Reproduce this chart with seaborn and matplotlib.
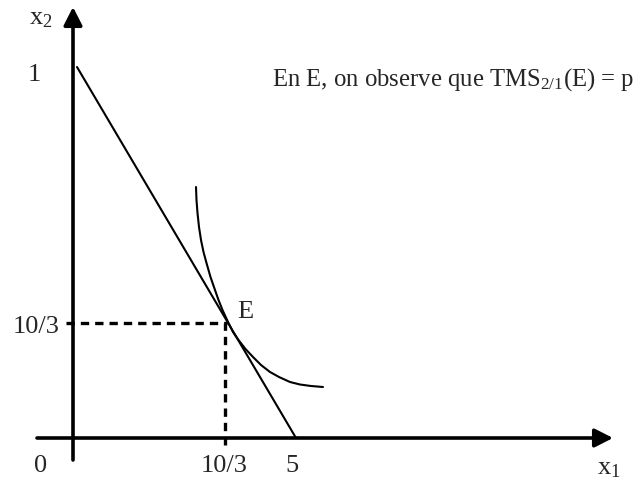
import matplotlib
matplotlib.use("Agg")
import matplotlib.pyplot as plt
import seaborn as sns
import pandas as pd

# Drawing units: one unit per pixel, origin where the two axes cross.
# Budget line (from the x2 intercept down to the x1 intercept)
budget_x1 = [4, 223]
budget_x2 = [371, 0]

# Indifference curve passing through E
curve_x1 = [123, 123.5, 124.5, 126, 128, 130.5, 133.5, 137.5, 142, 145.5, 149.5,
            155.5, 160, 165.5, 172.5, 180, 188, 197, 206, 217, 227, 238, 250]
curve_x2 = [251, 238, 225, 211, 198, 186, 175, 161, 148, 138, 128,
            115, 106, 98, 89, 81, 73, 66, 61, 56, 53.5, 52, 51]

# Equilibrium point E
e_x1, e_x2 = 154, 115

# Tick labels and their positions along each axis
x_tick_labels = ["0", "10/3", "5"]
x_tick_pos = [-32, 151, 219]
y_tick_labels = ["1", "10/3"]
y_tick_pos = [363, 111]

caption = "En E, on observe que TMS$_{2/1}$(E) = p"

sns.set_theme(style="white")
plt.rcParams["font.family"] = ["Liberation Serif", "DejaVu Serif"]
plt.rcParams["mathtext.fontset"] = "custom"
plt.rcParams["mathtext.rm"] = "Liberation Serif"
plt.rcParams["mathtext.it"] = "Liberation Serif"

fig = plt.figure(figsize=(6.4, 4.79), dpi=100)
ax = fig.add_axes([0, 0, 1, 1])
ax.set_xlim(-73, 567)
ax.set_ylim(-41, 438)
ax.axis("off")

budget = pd.DataFrame({"x1": budget_x1, "x2": budget_x2})
curve = pd.DataFrame({"x1": curve_x1, "x2": curve_x2})
sns.lineplot(data=budget, x="x1", y="x2", ax=ax, color="black", lw=1.5, sort=False)
sns.lineplot(data=curve, x="x1", y="x2", ax=ax, color="black", lw=1.5, sort=False,
             solid_joinstyle="round")

# Axes with arrow heads
arrow = dict(arrowstyle="-|>,head_length=0.55,head_width=0.28", color="black",
             lw=2.6, mutation_scale=20, shrinkA=0, shrinkB=0)
ax.annotate("", xy=(0, 431), xytext=(0, -22), arrowprops=arrow)
ax.annotate("", xy=(540, 0), xytext=(-36, 0), arrowprops=arrow)

# Dashed projections of E onto both axes
ax.plot([-7, e_x1], [e_x2, e_x2], color="black", lw=2.4, ls=(0, (2.5, 1.8)))
ax.plot([e_x1 - 2, e_x1 - 2], [-7, e_x2], color="black", lw=2.4, ls=(0, (2.5, 1.8)))

fs = 19
for lab, xp in zip(x_tick_labels, x_tick_pos):
    ax.text(xp, -28, lab, ha="center", va="center", fontsize=fs)
for lab, yp in zip(y_tick_labels, y_tick_pos):
    xr = -32 if lab == "1" else -13
    ax.text(xr, yp, lab, ha="right", va="center", fontsize=fs)

ax.text(-44, 419, "x$_2$", ha="left", va="center", fontsize=fs)
ax.text(524, -31, "x$_1$", ha="left", va="center", fontsize=fs)
ax.text(164, 126, "E", ha="left", va="center", fontsize=fs)
ax.text(199, 358, caption, ha="left", va="center", fontsize=17.8)

fig.savefig("out.png", dpi=100, facecolor="white")
